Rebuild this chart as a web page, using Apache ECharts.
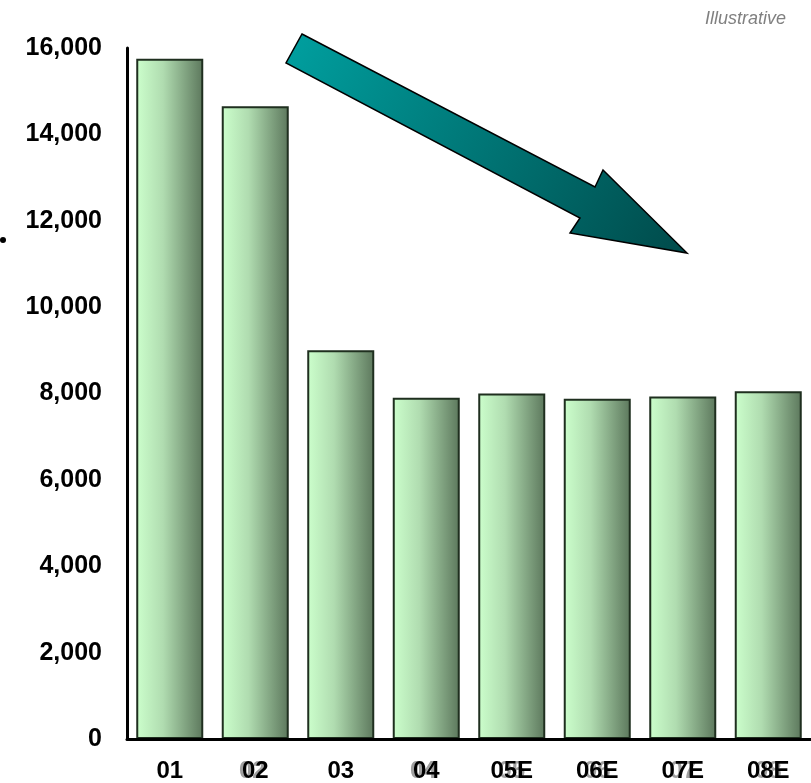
<!DOCTYPE html>
<html>
<head>
<meta charset="utf-8">
<script src="https://cdn.jsdelivr.net/npm/echarts@6/dist/echarts.min.js"></script>
<style>
  html, body { margin: 0; padding: 0; background: #fff; }
  #chart { width: 811px; height: 783px; }
</style>
</head>
<body>
<div id="chart"></div>
<script>
const categories = ['01', '02', '03', '04', '05E', '06E', '07E', '08E'];
const values = [15750, 14650, 9000, 7900, 8000, 7880, 7930, 8050];
// faint grey labels that sit behind some of the year labels
const ghostLabels = ['', '02', '', '04', '05', '06', '07', '08'];

const chart = echarts.init(document.getElementById('chart'));

const barFill = new echarts.graphic.LinearGradient(0, 0, 1, 0, [
  { offset: 0, color: '#ccffcc' },
  { offset: 0.4, color: '#b0dcb0' },
  { offset: 1, color: '#5c775c' }
]);

const labelFont = {
  fontFamily: 'Liberation Sans',
  fontWeight: 'bold',
  fontSize: 24
};

chart.setOption({
  animation: false,
  grid: { left: 127, top: 48, width: 688, height: 692 },
  xAxis: [
    {
      type: 'category',
      data: categories,
      z: 3,
      axisLine: { lineStyle: { color: '#000', width: 3 } },
      axisTick: { show: false },
      axisLabel: Object.assign({ color: '#000', margin: 20 }, labelFont)
    },
    {
      type: 'category',
      data: ghostLabels,
      position: 'bottom',
      z: 1,
      axisLine: { show: false },
      axisTick: { show: false },
      axisLabel: Object.assign({
        color: '#a0a0a0',
        margin: 20,
        formatter: function (v, i) {
          return (i === 1 || i === 3) ? '{l|' + v + '}' : v;
        },
        rich: {
          l: Object.assign({ color: '#a0a0a0', padding: [0, 6, 0, 0] }, labelFont)
        }
      }, labelFont)
    }
  ],
  yAxis: {
    type: 'value',
    min: 0,
    max: 16000,
    interval: 2000,
    axisLine: { show: true, lineStyle: { color: '#000', width: 3 } },
    axisTick: { show: false },
    splitLine: { show: false },
    axisLabel: {
      color: '#000',
      margin: 25,
      fontSize: 25,
      fontFamily: 'Liberation Sans',
      fontWeight: 'bold',
      formatter: function (v) { return v.toLocaleString('en-US'); }
    }
  },
  series: [
    {
      type: 'bar',
      data: values,
      barWidth: 67,
      itemStyle: {
        color: barFill,
        borderColor: '#1f2f1f',
        borderWidth: 2
      }
    }
  ],
  graphic: [
    {
      type: 'polygon',
      z: 10,
      shape: {
        points: [[302, 34], [595, 187], [603, 170], [687, 253], [570, 233], [580, 218], [286, 63]]
      },
      style: {
        fill: new echarts.graphic.LinearGradient(0, 0, 1, 1, [
          { offset: 0, color: '#00a0a0' },
          { offset: 1, color: '#004a4a' }
        ]),
        stroke: '#000',
        lineWidth: 1.5
      }
    },
    {
      type: 'text',
      right: 25,
      top: 10,
      style: {
        text: 'Illustrative',
        fill: '#808080',
        font: 'italic 18px "Liberation Sans"'
      }
    },
    {
      type: 'circle',
      shape: { cx: 3, cy: 240, r: 3 },
      style: { fill: '#000' }
    }
  ]
});
</script>
</body>
</html>
